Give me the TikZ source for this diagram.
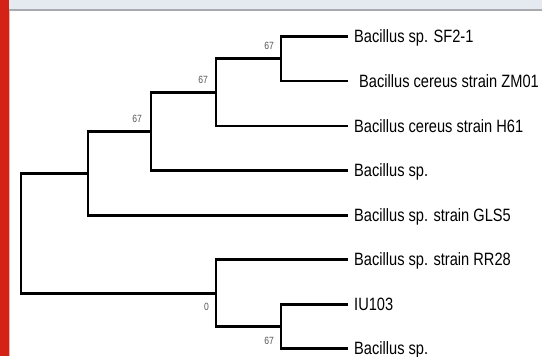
\documentclass[tikz,border=0pt]{standalone}
\usepackage{fontspec}
\setmainfont{Liberation Sans}
\newfontfamily\narrowsans{Liberation Sans}[FakeStretch=0.82]
\usetikzlibrary{positioning}
\definecolor{barred}{RGB}{212,34,22}
\definecolor{bandgray}{RGB}{228,234,240}
\definecolor{rulegray}{RGB}{168,170,174}
\definecolor{supgray}{RGB}{85,85,85}
\newcommand\tipx{348}
\newcommand\leafgap{6bp}
\tikzstyle{branch} = [line width=2.8bp, black]
\tikzstyle{taxon} = [anchor=west, inner sep=0pt, text height=12bp, text depth=0pt, font=\narrowsans\fontsize{17.9}{20}\selectfont]
\tikzstyle{support} = [inner sep=0pt, text=supgray, font=\narrowsans\fontsize{10.5}{12}\selectfont]

\begin{document}
\begin{tikzpicture}[x=1bp, y=-1bp]

            \useasboundingbox (0,0) rectangle (542,356);
            \fill[white] (0,0) rectangle (542,356);
            \fill[bandgray] (0,0) rectangle (542,8.5);
            \fill[rulegray] (0,8.5) rectangle (542,10.5);
            \fill[barred] (0,0) rectangle (8.5,356);
            \fill[barred!35] (8.5,10.5) rectangle (10,356);

            % tips
            \coordinate (t1) at (\tipx,36.5);
            \coordinate (t2) at (\tipx,81);
            \coordinate (t3) at (\tipx,126);
            \coordinate (t4) at (\tipx,170.7);
            \coordinate (t5) at (\tipx,215.3);
            \coordinate (t6) at (\tipx,259.8);
            \coordinate (t7) at (\tipx,304.3);
            \coordinate (t8) at (\tipx,348.8);

            % internal nodes
            \coordinate (nA) at (281,58.8);
            \coordinate (nB) at (216,92.4);
            \coordinate (nC) at (151,131.5);
            \coordinate (nD) at (88,173.4);
            \coordinate (nF) at (281,326.5);
            \coordinate (nE) at (216,293.2);
            \coordinate (root) at (21,233.3);

            \node (sf21) [taxon, right=\leafgap of t1]{Bacillus sp. SF2-1};
            \node (zm01) [taxon, right=11bp of t2]{Bacillus cereus strain ZM01};
            \node (h61) [taxon, right=\leafgap of t3]{Bacillus cereus strain H61};
            \node (bsp1) [taxon, right=\leafgap of t4]{Bacillus sp.};
            \node (gls5) [taxon, right=\leafgap of t5]{Bacillus sp. strain GLS5};
            \node (rr28) [taxon, right=\leafgap of t6]{Bacillus sp. strain RR28};
            \node (iu103) [taxon, right=\leafgap of t7]{IU103};
            \node (bsp2) [taxon, right=\leafgap of t8]{Bacillus sp.};

            \node (supA) [support, above left=9bp and 7bp of nA]{67};
            \node (supB) [support, above left=9bp and 8bp of nB]{67};
            \node (supC) [support, above left=9bp and 9bp of nC]{67};
            \node (supE) [support, below left=10bp and 7bp of nE]{0};
            \node (supF) [support, below left=10bp and 7bp of nF]{67};

            \draw [branch] (t1) -| (nA) |- (t2);
            \draw [branch] (nA) -| (nB) |- (t3);
            \draw [branch] (nB) -| (nC) |- (t4);
            \draw [branch] (nC) -| (nD) |- (t5);
            \draw [branch] (t7) -| (nF) |- (t8);
            \draw [branch] (t6) -| (nE) |- (nF);
            \draw [branch] (nD) -| (root) |- (nE);

        \end{tikzpicture}
\end{document}
